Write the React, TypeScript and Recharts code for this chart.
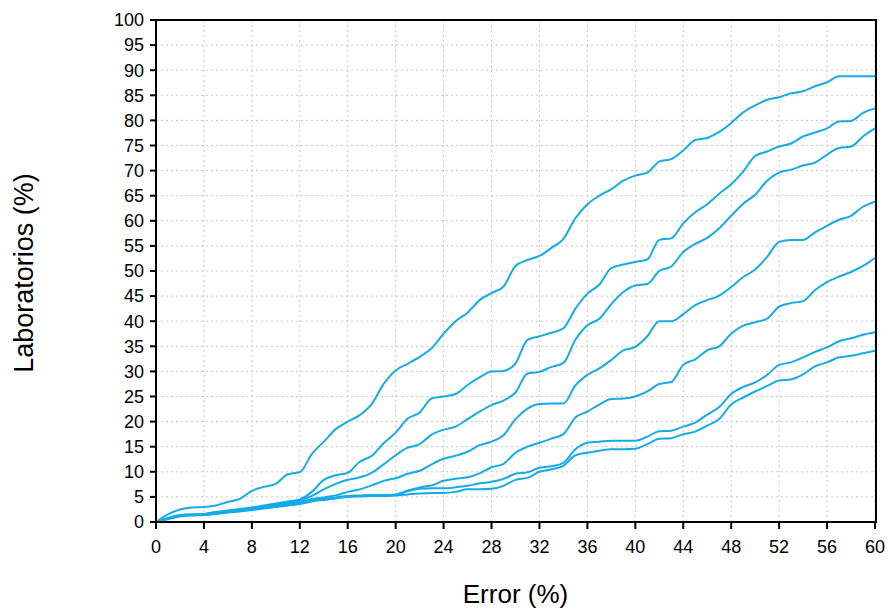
import { LineChart, Line, XAxis, YAxis, CartesianGrid } from "recharts";

// x positions (error %), one point per unit
const errorPct = [
    0, 1, 2, 3, 4, 5, 6, 7, 8, 9, 10, 11, 12, 13, 14, 15, 16, 17, 18, 19, 20,
    21, 22, 23, 24, 25, 26, 27, 28, 29, 30, 31, 32, 33, 34, 35, 36, 37, 38, 39, 40,
    41, 42, 43, 44, 45, 46, 47, 48, 49, 50, 51, 52, 53, 54, 55, 56, 57, 58, 59, 60,
];

// cumulative % of laboratories, top curve first
const lab1 = [
    0, 1.5, 2.5, 2.9, 3.0, 3.3, 4.0, 4.6, 6.2, 7.0, 7.6, 9.5, 9.9, 13.5, 16.0, 18.5, 20.0, 21.3, 23.5, 27.5, 30.2,
    31.5, 32.9, 34.6, 37.5, 40.0, 41.7, 44.2, 45.6, 46.9, 51.0, 52.2, 53.0, 54.6, 56.4, 60.5, 63.3, 65.0, 66.3, 68.0, 69.0,
    69.6, 71.8, 72.3, 74.0, 76.1, 76.5, 77.7, 79.5, 81.6, 83.0, 84.1, 84.6, 85.4, 85.8, 86.8, 87.6, 88.8, 88.8, 88.8, 88.8,
];
const lab2 = [
    0, 0.8, 1.4, 1.5, 1.6, 2.0, 2.3, 2.6, 2.9, 3.3, 3.7, 4.1, 4.5, 6.0, 8.4, 9.3, 9.8, 12.0, 13.2, 15.7, 17.8,
    20.6, 21.8, 24.6, 25.0, 25.5, 27.3, 28.8, 30.0, 30.1, 31.6, 36.3, 37.0, 37.7, 38.6, 42.5, 45.5, 47.3, 50.6, 51.3, 51.8,
    52.3, 56.2, 56.5, 59.5, 61.7, 63.3, 65.4, 67.3, 69.8, 72.9, 73.8, 74.8, 75.4, 76.8, 77.6, 78.4, 79.8, 79.9, 81.5, 82.4,
];
const lab3 = [
    0, 0.7, 1.3, 1.5, 1.5, 1.9, 2.2, 2.5, 2.8, 3.1, 3.5, 3.9, 4.3, 5.2, 6.5, 7.6, 8.4, 8.9, 9.8, 11.5, 13.3,
    14.8, 15.5, 17.4, 18.4, 19.0, 20.5, 22.0, 23.3, 24.2, 25.8, 29.6, 29.9, 30.9, 31.7, 36.3, 39.2, 40.5, 43.4, 45.8, 47.1,
    47.4, 50.0, 50.9, 53.8, 55.4, 56.6, 58.5, 61.0, 63.4, 65.2, 68.0, 69.6, 70.2, 71.0, 71.6, 73.2, 74.5, 74.8, 76.8, 78.4,
];
const lab4 = [
    0, 0.7, 1.3, 1.4, 1.5, 1.8, 2.1, 2.4, 2.7, 3.0, 3.3, 3.7, 4.0, 4.6, 4.9, 5.3, 6.0, 6.5, 7.3, 8.2, 8.7,
    9.6, 10.2, 11.5, 12.6, 13.2, 14.0, 15.3, 16.0, 17.3, 20.5, 22.6, 23.5, 23.6, 23.6, 27.2, 29.3, 30.6, 32.3, 34.2, 34.9,
    37.0, 40.0, 40.0, 41.4, 43.2, 44.2, 45.1, 46.8, 48.8, 50.3, 52.8, 55.8, 56.2, 56.2, 57.7, 59.0, 60.2, 61.0, 62.8, 63.8,
];
const lab5 = [
    0, 0.7, 1.2, 1.4, 1.5, 1.8, 2.0, 2.3, 2.6, 2.9, 3.2, 3.5, 3.8, 4.3, 4.6, 4.9, 5.2, 5.3, 5.4, 5.4, 5.5,
    6.3, 6.9, 7.3, 8.2, 8.6, 8.9, 9.7, 10.9, 11.6, 13.8, 15.0, 15.8, 16.6, 17.5, 20.8, 22.0, 23.4, 24.5, 24.6, 25.0,
    26.0, 27.5, 27.9, 31.3, 32.4, 34.2, 35.0, 37.5, 39.1, 39.8, 40.5, 42.9, 43.6, 44.0, 46.2, 47.8, 48.9, 49.8, 51.0, 52.6,
];
const lab6 = [
    0, 0.6, 1.2, 1.4, 1.4, 1.7, 2.0, 2.2, 2.5, 2.8, 3.1, 3.4, 3.7, 4.2, 4.5, 4.8, 5.1, 5.2, 5.3, 5.3, 5.4,
    6.1, 6.6, 6.7, 6.7, 6.9, 7.2, 7.7, 8.0, 8.6, 9.6, 9.9, 10.8, 11.1, 11.8, 14.5, 15.8, 16.0, 16.2, 16.2, 16.2,
    17.0, 18.1, 18.2, 19.0, 19.8, 21.4, 22.9, 25.5, 26.9, 27.8, 29.3, 31.3, 31.8, 32.8, 33.9, 34.8, 36.0, 36.6, 37.3, 37.8,
];
const lab7 = [
    0, 0.6, 1.1, 1.3, 1.4, 1.6, 1.9, 2.1, 2.4, 2.7, 3.0, 3.3, 3.6, 4.1, 4.4, 4.7, 5.0, 5.1, 5.2, 5.2, 5.3,
    5.5, 5.7, 5.8, 5.8, 6.0, 6.5, 6.5, 6.6, 7.2, 8.4, 8.8, 10.0, 10.5, 11.2, 13.3, 13.8, 14.2, 14.5, 14.5, 14.6,
    15.5, 16.6, 16.7, 17.5, 18.0, 19.2, 20.5, 23.4, 24.8, 26.0, 27.1, 28.2, 28.4, 29.4, 31.0, 31.8, 32.8, 33.1, 33.6, 34.1,
];

const xTicks = [0, 4, 8, 12, 16, 20, 24, 28, 32, 36, 40, 44, 48, 52, 56, 60];
const yTicks = [0, 5, 10, 15, 20, 25, 30, 35, 40, 45, 50, 55, 60, 65, 70, 75, 80, 85, 90, 95, 100];

const seriesKeys = ["lab1", "lab2", "lab3", "lab4", "lab5", "lab6", "lab7"];
const allSeries = [lab1, lab2, lab3, lab4, lab5, lab6, lab7];

const data = errorPct.map((x, i) => {
    const row: Record<string, number> = { x };
    seriesKeys.forEach((k, j) => {
        row[k] = allSeries[j][i];
    });
    return row;
});

const FONT = "'Liberation Sans', Arial, sans-serif";
const LINE_COLOR = "#16aae6";

export default function App() {
    // absolute box the size of the window, so nothing can add scrollbars
    return (
        <div
            style={{
                position: "absolute",
                left: 0,
                top: 0,
                width: 888,
                height: 612,
                overflow: "hidden",
                background: "#fff",
                fontFamily: FONT,
            }}
        >
            <div style={{ position: "absolute", left: 8, top: 8, width: 880, height: 604 }}>
                <LineChart width={880} height={604} data={data} margin={{ top: 12, right: 13, bottom: 0, left: 0 }}>
                    <CartesianGrid stroke="#c8c8c8" strokeDasharray="2 3" />
                    <XAxis
                        dataKey="x"
                        type="number"
                        domain={[0, 60]}
                        ticks={xTicks}
                        interval={0}
                        height={90}
                        stroke="#000"
                        strokeWidth={2}
                        tickSize={7}
                        tickMargin={11}
                        tick={{ fill: "#000", fontSize: 18, fontFamily: FONT }}
                        label={{
                            content: () => (
                                <text x={507.5} y={595} textAnchor="middle" fontSize={26} fontFamily={FONT} fill="#000">
                                    Error (%)
                                </text>
                            ),
                        }}
                    />
                    <YAxis
                        type="number"
                        domain={[0, 100]}
                        ticks={yTicks}
                        interval={0}
                        width={148}
                        stroke="#000"
                        strokeWidth={2}
                        tickSize={6}
                        tickMargin={6}
                        tick={{ fill: "#000", fontSize: 18, fontFamily: FONT }}
                        label={{
                            content: () => (
                                <text
                                    x={25}
                                    y={265}
                                    transform="rotate(-90 25 265)"
                                    textAnchor="middle"
                                    fontSize={27}
                                    fontFamily={FONT}
                                    fill="#000"
                                >
                                    Laboratorios (%)
                                </text>
                            ),
                        }}
                    />
                    {seriesKeys.map((k) => (
                        <Line
                            key={k}
                            type="monotone"
                            dataKey={k}
                            stroke={LINE_COLOR}
                            strokeWidth={2}
                            dot={false}
                            isAnimationActive={false}
                        />
                    ))}
                </LineChart>
                {/* frame round the plot area */}
                <div
                    style={{
                        position: "absolute",
                        left: 147,
                        top: 11,
                        width: 722,
                        height: 504,
                        boxSizing: "border-box",
                        border: "2px solid #000",
                        pointerEvents: "none",
                    }}
                />
            </div>
        </div>
    );
}
